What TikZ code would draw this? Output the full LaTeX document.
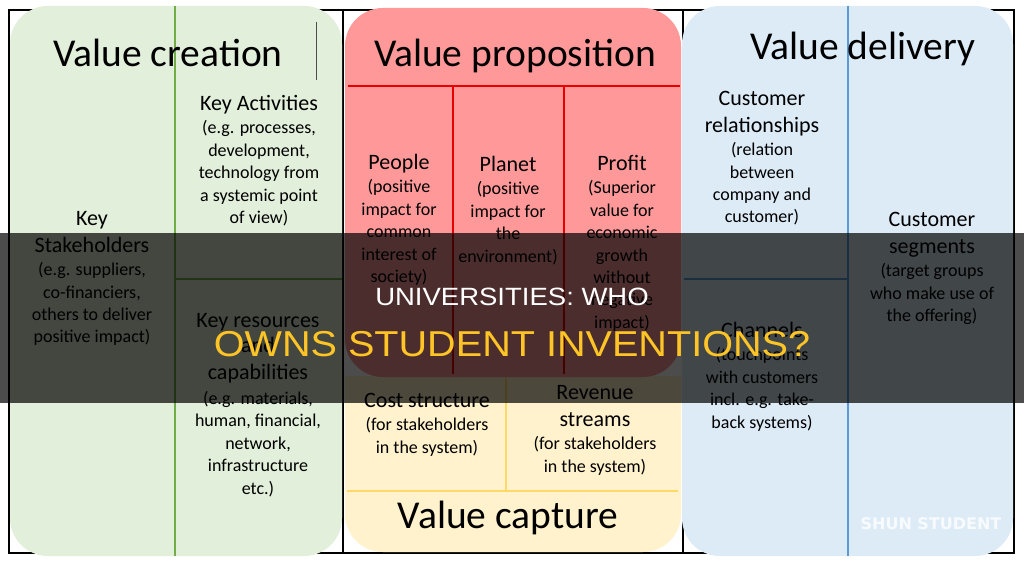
\documentclass[tikz,border=0pt]{standalone}
\usepackage{fontspec}
\setmainfont{Carlito}
\newfontfamily\bannerfont{Liberation Sans}
\newfontfamily\markfont{DejaVu Sans}
\usetikzlibrary{positioning}

\definecolor{creationfill}{HTML}{E2EFDA}
\definecolor{creationline}{HTML}{70AD47}
\definecolor{propfill}{HTML}{FF9999}
\definecolor{propline}{HTML}{E80000}
\definecolor{capturefill}{HTML}{FFF2CC}
\definecolor{captureline}{HTML}{FFD966}
\definecolor{deliveryfill}{HTML}{DDEBF7}
\definecolor{deliveryline}{HTML}{5B9BD5}
\definecolor{bannergold}{HTML}{FFC526}

\newcommand{\ttl}{\fontsize{22}{27}\selectfont}

\begin{document}
\begin{tikzpicture}[x=1pt, y=-1pt,
    frame/.style={draw=black, line width=1.5pt},
    panel/.style={rounded corners=38pt},
    divider/.style={line width=2.5pt},
    blocktext/.style={align=center, anchor=north, inner sep=0pt, font=\fontsize{18}{22.4}\selectfont},
    bigtitle/.style={anchor=base, inner sep=0pt, font=\fontsize{39.5}{44}\selectfont}]
        \useasboundingbox[fill=white] (0,0) rectangle (1024,564);

        % Frames behind the panels
        \draw[frame] (9,10) rectangle (343,553);
        \draw[frame] (343,10) rectangle (683,553);
        \draw[frame] (683,10) rectangle (1014,553);

        % Panels
        \fill[creationfill, panel] (10,6) rectangle (342,556);
        \begin{scope}
            \clip (344,376) rectangle (682,556);
            \fill[capturefill, panel] (345,300) rectangle (681,552);
        \end{scope}
        \fill[propfill, panel] (345,8) rectangle (681,377);
        \fill[deliveryfill, panel] (682,6) rectangle (1013,556);

        % Dividers
        \draw[divider, creationline] (175,6) -- (175,556);
        \draw[divider, creationline] (175,279) -- (342,279);
        \draw[divider, propline] (348,86) -- (680,86);
        \draw[divider, propline] (453,86) -- (453,374);
        \draw[divider, propline] (564,86) -- (564,374);
        \draw[divider, captureline] (506,377) -- (506,491);
        \draw[divider, captureline] (347,491) -- (678,491);
        \draw[divider, deliveryline] (848,6) -- (848,556);
        \draw[divider, deliveryline] (684,279) -- (848,279);
        \draw[line width=1pt, black!70] (316,22) -- (316,80);

        % Value creation
        \node[bigtitle] (creation) at (168,67) {Value creation};
        \node[blocktext] (activities) at (259,95) {{\ttl Key Activities}\\[1pt](e.g. processes,\\development,\\technology from\\a systemic point\\of view)};
        \node[blocktext] (stakeholders) at (92,211) {{\ttl Key}\\[4.5pt]{\ttl Stakeholders}\\[1pt](e.g. suppliers,\\co-financiers,\\others to deliver\\positive impact)};
        \node[blocktext] (resources) at (258,313) {{\ttl Key resources}\\[3pt]{\ttl and}\\[4.5pt]{\ttl capabilities}\\[2.5pt](e.g. materials,\\human, financial,\\network,\\infrastructure\\etc.)};

        % Value proposition
        \node[bigtitle] (proposition) at (515,67) {Value proposition};
        \node[blocktext] (people) at (399,154) {{\ttl People}\\[1pt](positive\\impact for\\common\\interest of\\society)};
        \node[blocktext] (planet) at (508,156) {{\ttl Planet}\\[1pt](positive\\impact for\\the\\environment)};
        \node[blocktext] (profit) at (622,155) {{\ttl Profit}\\[1pt](Superior\\value for\\economic\\growth\\without\\negative\\impact)};

        % Value capture
        \node[bigtitle] (capture) at (508,528) {Value capture};
        \node[blocktext] (cost) at (427,393) {{\ttl Cost structure}\\[1pt](for stakeholders\\in the system)};
        \node[blocktext] (revenue) at (595,385) {{\ttl Revenue}\\[4.5pt]{\ttl streams}\\[1pt](for stakeholders\\in the system)};

        % Value delivery
        \node[bigtitle] (delivery) at (863,60) {Value delivery};
        \node[blocktext] (relationships) at (762,91) {{\ttl Customer}\\[4.5pt]{\ttl relationships}\\[1pt](relation\\between\\company and\\customer)};
        \node[blocktext] (segments) at (932,212) {{\ttl Customer}\\[4.5pt]{\ttl segments}\\[1pt](target groups\\who make use of\\the offering)};
        \node[blocktext] (channels) at (762,322) {{\ttl Channels}\\[1pt](touchpoints\\with customers\\incl. e.g. take-\\back systems)};

        % Banner
        \fill[black, opacity=0.7] (0,233) rectangle (1024,403);
        \node[anchor=base, inner sep=0pt, xscale=1.1, text=white, font=\bannerfont\fontsize{25}{30}\selectfont] (bannertop) at (512,305) {UNIVERSITIES: WHO};
        \node[anchor=base, inner sep=0pt, xscale=1.1, text=bannergold, font=\bannerfont\fontsize{36}{42}\selectfont] (bannerbottom) at (512,356) {OWNS STUDENT INVENTIONS?};

        % Watermark
        \node[text=white, opacity=0.8, inner sep=0pt, font=\markfont\bfseries\fontsize{16}{19}\selectfont] (watermark) at (931,523.5) {SHUN STUDENT};
    \end{tikzpicture}
\end{document}
